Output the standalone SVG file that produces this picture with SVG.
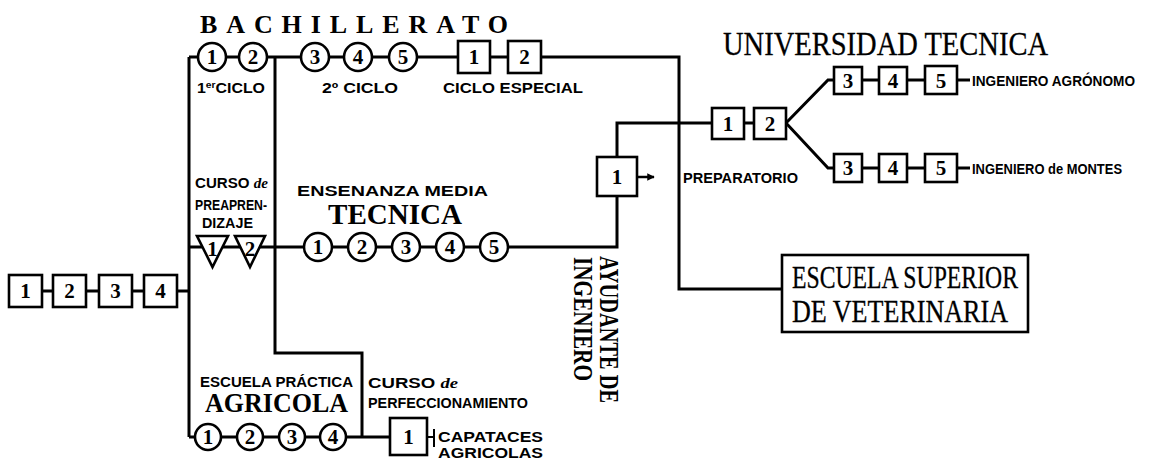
<svg xmlns="http://www.w3.org/2000/svg" width="1156" height="461" viewBox="0 0 1156 461">
<style>
.ln{stroke:#000;stroke-width:3;fill:none;stroke-linejoin:miter}
.nd{fill:#fff;stroke:#000;stroke-width:2.6}
.num{font-family:"Liberation Serif",serif;font-weight:bold;font-size:21px;text-anchor:middle}
.lab{font-family:"Liberation Sans",sans-serif;font-size:14px;font-weight:bold;fill:#000}
.ttl{font-family:"Liberation Serif",serif;fill:#000;font-weight:bold}
.ttm{font-family:"Liberation Serif",serif;fill:#000;font-weight:normal;stroke:#000;stroke-width:0.3}
.de{font-family:"Liberation Serif",serif;font-style:italic;font-weight:bold}
</style>
<defs>
<marker id="ah" viewBox="0 0 10 10" refX="9" refY="5" markerWidth="3" markerHeight="3" orient="auto"><path d="M0 0L10 5L0 10z" fill="#000"/></marker>
</defs>
<rect width="1156" height="461" fill="#fff"/>
<g id="connectors" class="ln">
<path d="M42 291H52M86 291H98M132 291H143M177 291H189"/>
<path d="M189 57V437"/>
<path d="M189 57H198M226 57H239M267 57H301M329 57H344M372 57H389M417 57H458M490 57H508M542 57H679V289H782"/>
<path d="M275 57V353H362V437"/>
<path d="M189 247H617V196"/>
<path d="M189 437H390"/>
<path d="M617 157V123H712M745 123H754M786 123L828 80H834M786 123L828 168H834"/>
<path d="M862 80H879M907 80H925M957 80H970M862 168H879M907 168H925M957 168H970"/>
<path d="M427 437H434M434 429V447" stroke-width="2"/>
<path d="M637 177H654" stroke-width="2.5" marker-end="url(#ah)"/>
</g>
<g id="primaria">
<rect class="nd" x="9" y="275" width="33" height="32"/><text class="num" x="25.5" y="298">1</text>
<rect class="nd" x="53" y="275" width="33" height="32"/><text class="num" x="69.5" y="298">2</text>
<rect class="nd" x="99" y="275" width="33" height="32"/><text class="num" x="115.5" y="298">3</text>
<rect class="nd" x="144" y="275" width="33" height="32"/><text class="num" x="160.5" y="298">4</text>
</g>
<g id="bachillerato">
<text class="ttl" x="200" y="33" font-size="26" textLength="308" lengthAdjust="spacing">BACHILLERATO</text>
<circle class="nd" cx="212" cy="57" r="14"/><text class="num" x="212" y="64">1</text>
<circle class="nd" cx="253" cy="57" r="14"/><text class="num" x="253" y="64">2</text>
<circle class="nd" cx="315" cy="57" r="14"/><text class="num" x="315" y="64">3</text>
<circle class="nd" cx="358" cy="57" r="14"/><text class="num" x="358" y="64">4</text>
<circle class="nd" cx="403" cy="57" r="14"/><text class="num" x="403" y="64">5</text>
<rect class="nd" x="458" y="41" width="32" height="32"/><text class="num" x="474" y="64">1</text>
<rect class="nd" x="508" y="41" width="33" height="32"/><text class="num" x="524.5" y="64">2</text>
<text class="lab" x="197" y="93" textLength="68" lengthAdjust="spacingAndGlyphs">1<tspan font-size="9" dy="-5">er</tspan><tspan dy="5">CICLO</tspan></text>
<text class="lab" x="322" y="93" textLength="76" lengthAdjust="spacingAndGlyphs">2º CICLO</text>
<text class="lab" x="443" y="93" textLength="140" lengthAdjust="spacingAndGlyphs">CICLO ESPECIAL</text>
</g>
<g id="preaprendizaje">
<text class="lab" x="195" y="188" textLength="73" lengthAdjust="spacingAndGlyphs">CURSO <tspan class="de">de</tspan></text>
<text class="lab" x="195" y="210" textLength="72" lengthAdjust="spacingAndGlyphs">PREAPREN-</text>
<text class="lab" x="202" y="228" textLength="51" lengthAdjust="spacingAndGlyphs">DIZAJE</text>
<polygon class="nd" points="197,236 228,236 212.5,267"/><text class="num" x="212.5" y="256" font-size="18">1</text>
<polygon class="nd" points="235,236 265,236 250,267"/><text class="num" x="250" y="256" font-size="18">2</text>
</g>
<g id="tecnica">
<text class="lab" x="297" y="196" font-size="17" textLength="191" lengthAdjust="spacingAndGlyphs">ENSENANZA MEDIA</text>
<text class="ttl" x="328" y="224" font-size="30" textLength="134" lengthAdjust="spacingAndGlyphs">TECNICA</text>
<circle class="nd" cx="318" cy="247" r="14"/><text class="num" x="318" y="254">1</text>
<circle class="nd" cx="362" cy="247" r="14"/><text class="num" x="362" y="254">2</text>
<circle class="nd" cx="406" cy="247" r="14"/><text class="num" x="406" y="254">3</text>
<circle class="nd" cx="450" cy="247" r="14"/><text class="num" x="450" y="254">4</text>
<circle class="nd" cx="494" cy="247" r="14"/><text class="num" x="494" y="254">5</text>
</g>
<g id="ayudante">
<rect class="nd" x="597" y="157" width="40" height="39"/><text class="num" x="617" y="184">1</text>
<text class="ttl" font-size="27" transform="translate(600,256) rotate(90)" textLength="147" lengthAdjust="spacingAndGlyphs">AYUDANTE DE</text>
<text class="ttl" font-size="27" transform="translate(574,257) rotate(90)" textLength="124" lengthAdjust="spacingAndGlyphs">INGENIERO</text>
</g>
<g id="universidad">
<text class="ttm" x="723" y="55" font-size="34" textLength="325" lengthAdjust="spacingAndGlyphs">UNIVERSIDAD TECNICA</text>
<rect class="nd" x="712" y="108" width="32" height="31"/><text class="num" x="728" y="131">1</text>
<rect class="nd" x="754" y="108" width="32" height="31"/><text class="num" x="770" y="131">2</text>
<text class="lab" x="683" y="183" textLength="115" lengthAdjust="spacingAndGlyphs">PREPARATORIO</text>
<rect class="nd" x="834" y="67" width="28" height="27"/><text class="num" x="848" y="88">3</text>
<rect class="nd" x="879" y="67" width="28" height="27"/><text class="num" x="893" y="88">4</text>
<rect class="nd" x="925" y="66" width="32" height="28"/><text class="num" x="941" y="88">5</text>
<text class="lab" x="972" y="86" font-size="13" textLength="163" lengthAdjust="spacingAndGlyphs">INGENIERO AGRÓNOMO</text>
<rect class="nd" x="834" y="154" width="28" height="28"/><text class="num" x="848" y="175">3</text>
<rect class="nd" x="879" y="154" width="28" height="28"/><text class="num" x="893" y="175">4</text>
<rect class="nd" x="925" y="154" width="32" height="28"/><text class="num" x="941" y="175">5</text>
<text class="lab" x="972" y="174" font-size="13" textLength="150" lengthAdjust="spacingAndGlyphs">INGENIERO de MONTES</text>
</g>
<g id="veterinaria">
<rect class="nd" x="782" y="255" width="246" height="77"/>
<text class="ttm" x="792" y="288" font-size="31" textLength="226" lengthAdjust="spacingAndGlyphs">ESCUELA SUPERIOR</text>
<text class="ttm" x="792" y="322" font-size="31" textLength="216" lengthAdjust="spacingAndGlyphs">DE VETERINARIA</text>
</g>
<g id="agricola">
<text class="lab" x="200" y="387" textLength="153" lengthAdjust="spacingAndGlyphs">ESCUELA PRÁCTICA</text>
<text class="ttl" x="205" y="412" font-size="27" textLength="143" lengthAdjust="spacingAndGlyphs">AGRICOLA</text>
<circle class="nd" cx="208" cy="437" r="13"/><text class="num" x="208" y="444" font-size="20">1</text>
<circle class="nd" cx="250" cy="437" r="13"/><text class="num" x="250" y="444" font-size="20">2</text>
<circle class="nd" cx="292" cy="437" r="13"/><text class="num" x="292" y="444" font-size="20">3</text>
<circle class="nd" cx="333" cy="437" r="13"/><text class="num" x="333" y="444" font-size="20">4</text>
</g>
<g id="perfeccionamiento">
<text class="lab" x="368" y="388" font-size="15" textLength="90" lengthAdjust="spacingAndGlyphs">CURSO <tspan class="de">de</tspan></text>
<text class="lab" x="368" y="408" textLength="160" lengthAdjust="spacingAndGlyphs">PERFECCIONAMIENTO</text>
<rect class="nd" x="390" y="418" width="37" height="37"/><text class="num" x="408.5" y="444">1</text>
<text class="lab" x="438" y="442" textLength="105" lengthAdjust="spacingAndGlyphs">CAPATACES</text>
<text class="lab" x="438" y="458" textLength="105" lengthAdjust="spacingAndGlyphs">AGRICOLAS</text>
</g>
</svg>
